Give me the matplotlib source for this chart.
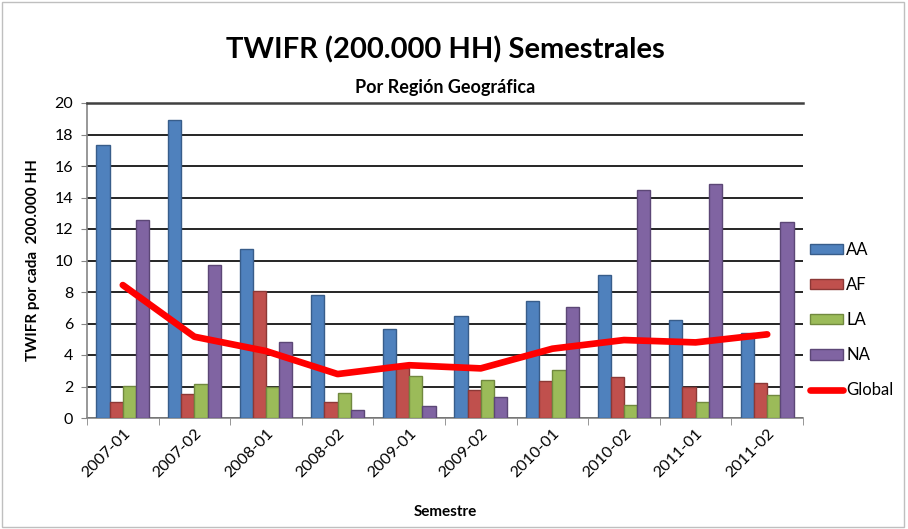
import numpy as np
import matplotlib
matplotlib.use('Agg')
import matplotlib.pyplot as plt
from matplotlib.patches import Rectangle

plt.rcParams['font.family'] = ['Lato', 'DejaVu Sans']

semestres = ['2007-01', '2007-02', '2008-01', '2008-02', '2009-01',
             '2009-02', '2010-01', '2010-02', '2011-01', '2011-02']
aa = [17.35, 18.95, 10.7, 7.8, 5.65, 6.5, 7.43, 9.08, 6.2, 5.38]
af = [1.04, 1.5, 8.06, 1.04, 3.2, 1.78, 2.35, 2.6, 1.95, 2.22]
la = [2.03, 2.14, 1.95, 1.57, 2.69, 2.41, 3.07, 0.83, 1.04, 1.48]
na = [12.6, 9.73, 4.8, 0.49, 0.74, 1.31, 7.07, 14.48, 14.83, 12.44]
glob = [8.44, 5.16, 4.25, 2.79, 3.35, 3.15, 4.4, 4.95, 4.8, 5.31]

series = [('AA', aa, '#4F81BD', '#385D8A'),
          ('AF', af, '#C0504D', '#8C3836'),
          ('LA', la, '#9BBB59', '#71893F'),
          ('NA', na, '#8064A2', '#5C4776')]

fig = plt.figure(figsize=(9.08, 5.29), dpi=100)
ax = fig.add_axes([87 / 908, 1 - 418 / 529, 716 / 908, 315 / 529])

x = np.arange(len(semestres))
w = 0.185
handles = []
for k, (name, vals, fc, ec) in enumerate(series):
    b = ax.bar(x + (k - 1.5) * w, vals, width=w, color=fc, edgecolor=ec,
               linewidth=1.0, label=name, zorder=3)
    handles.append(b)
ln, = ax.plot(x, glob, color='#FF0000', linewidth=4.8, solid_capstyle='round',
              solid_joinstyle='round', label='Global', zorder=4)
handles.append(ln)

ax.set_xlim(-0.5, len(semestres) - 0.5)
ax.set_ylim(0, 20)
ax.set_yticks(range(0, 21, 2))
ax.yaxis.grid(True, color='black', linewidth=1.2, zorder=0)
ax.set_axisbelow(True)
ax.tick_params(axis='y', labelsize=11.5, length=4, color='#868686', pad=6)
ax.set_xticks(x)
ax.set_xticklabels(semestres, rotation=45, ha='right', rotation_mode='anchor',
                   fontsize=11.5)
ax.tick_params(axis='x', length=0, pad=6)
ax.set_xticks(np.arange(-0.5, len(semestres), 1), minor=True)
ax.tick_params(axis='x', which='minor', length=5, color='#868686')

for s in ['left', 'bottom']:
    ax.spines[s].set_color('#868686')
    ax.spines[s].set_linewidth(1.2)
ax.spines['right'].set_visible(False)
ax.spines['top'].set_color('#404040')
ax.spines['top'].set_linewidth(1.8)

ax.set_ylabel('TWIFR por cada  200.000 HH', fontsize=11, fontweight='bold',
              labelpad=10)
ax.set_xlabel('Semestre', fontsize=11, fontweight='bold', labelpad=18)

fig.text(0.5 * (87 + 803) / 908, 1 - 50 / 529, 'TWIFR (200.000 HH) Semestrales',
         ha='center', va='center', fontsize=21, fontweight='bold')
fig.text(0.5 * (87 + 803) / 908, 1 - 87 / 529, 'Por Región Geográfica',
         ha='center', va='center', fontsize=13, fontweight='bold')

fig.legend(handles=handles, labels=['AA', 'AF', 'LA', 'NA', 'Global'],
           loc='center left', bbox_to_anchor=(803 / 908, 1 - 320 / 529),
           frameon=False, fontsize=12, handlelength=2.0, handleheight=0.6,
           labelspacing=1.15, handletextpad=0.2, borderaxespad=0.0)

fig.patches.append(Rectangle((0.002, 0.003), 0.994, 0.994,
                             transform=fig.transFigure, fill=False,
                             edgecolor='#BFBFBF', linewidth=1.0))

fig.savefig('out.png', dpi=100)
